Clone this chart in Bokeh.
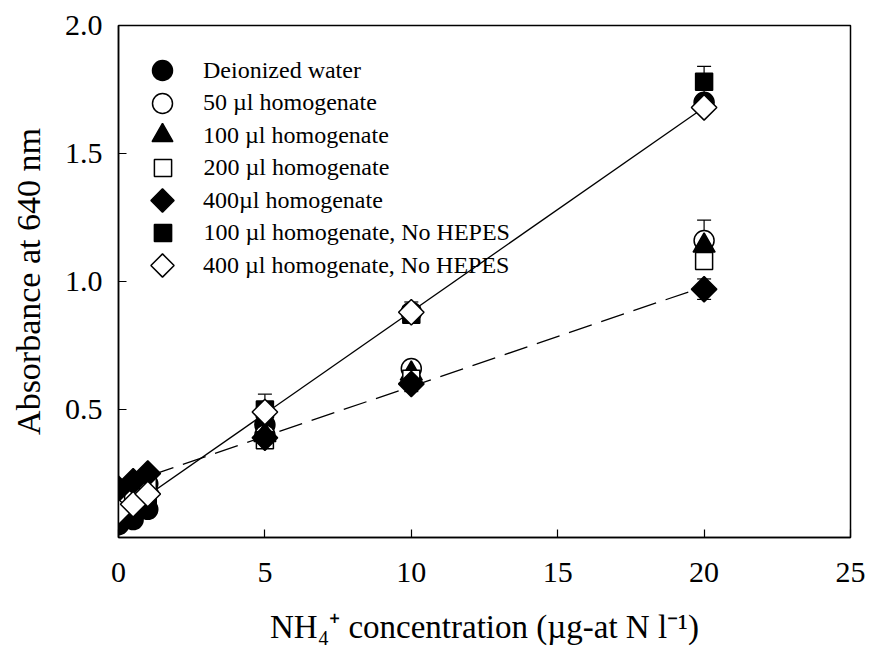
import numpy as np
from bokeh.plotting import figure
from bokeh.models import (ColumnDataSource, Whisker, TeeHead, Legend, LegendItem,
                          FixedTicker, Range1d, NumeralTickFormatter)
from bokeh.embed import file_html
from bokeh.resources import INLINE

# ---------------- data ----------------
conc = [0, 0.5, 1, 5, 10, 20]

deionized = [0.05, 0.07, 0.11, 0.44, 0.88, 1.70]
deionized_sd = [0.01, 0.01, 0.01, 0.02, 0.02, 0.02]

hom50 = [0.16, 0.18, 0.21, 0.40, 0.66, 1.16]
hom50_sd = [0.01, 0.01, 0.01, 0.02, 0.02, 0.08]

hom100 = [0.15, 0.17, 0.20, 0.40, 0.64, 1.14]
hom100_sd = [0.01, 0.01, 0.01, 0.02, 0.02, 0.04]

hom200 = [0.15, 0.17, 0.20, 0.38, 0.62, 1.08]
hom200_sd = [0.01, 0.01, 0.01, 0.03, 0.02, 0.03]

hom400 = [0.19, 0.22, 0.25, 0.39, 0.60, 0.97]
hom400_sd = [0.01, 0.01, 0.01, 0.02, 0.03, 0.04]

hom100_nohepes = [0.08, 0.10, 0.13, 0.50, 0.87, 1.78]
hom100_nohepes_sd = [0.01, 0.01, 0.01, 0.06, 0.03, 0.06]

hom400_nohepes = [0.10, 0.13, 0.17, 0.49, 0.88, 1.68]
hom400_nohepes_sd = [0.01, 0.01, 0.01, 0.02, 0.04, 0.02]

fit_x = [0, 20]
fit_solid = [0.085, 1.68]
fit_dashed = [0.20, 0.98]

x_ticks = [0, 5, 10, 15, 20, 25]
y_ticks = [0.5, 1.0, 1.5, 2.0]

labels = ["Deionized water", "50 \u00b5l homogenate", "100 \u00b5l homogenate",
          "200 \u00b5l homogenate", "400\u00b5l homogenate",
          "100 \u00b5l homogenate, No HEPES", "400 \u00b5l homogenate, No HEPES"]

FONT = "Liberation Serif"

p = figure(width=868, height=658, output_backend="svg", toolbar_location=None,
           x_range=Range1d(0, 25), y_range=Range1d(0, 2),
           min_border_left=118, min_border_right=18, min_border_top=25,
           min_border_bottom=121)

p.xgrid.grid_line_color = None
p.ygrid.grid_line_color = None
p.outline_line_color = "black"
p.outline_line_width = 1.5
p.outline_line_alpha = 1.0

p.xaxis.ticker = FixedTicker(ticks=x_ticks)
p.yaxis.ticker = FixedTicker(ticks=y_ticks)
p.yaxis.formatter = NumeralTickFormatter(format="0.0")
for ax in (p.xaxis[0], p.yaxis[0]):
    ax.major_tick_in = 8
    ax.major_tick_out = 0
    ax.minor_tick_line_color = None
    ax.axis_line_width = 1.5
    ax.major_tick_line_width = 1.2
    ax.major_label_text_font = FONT
    ax.major_label_text_font_size = "30px"
    ax.major_label_text_color = "black"
    ax.axis_label_text_font = FONT
    ax.axis_label_text_font_style = "normal"
    ax.axis_label_text_color = "black"
p.xaxis.axis_label_text_font_size = "33px"
p.yaxis.axis_label_text_font_size = "34px"
p.xaxis.major_label_standoff = 25
p.yaxis.major_label_standoff = 16
p.xaxis.axis_label = "NH\u2084\u207a concentration (\u00b5g-at N l\u207b\u00b9)"
p.yaxis.axis_label = "Absorbance at 640 nm"
p.xaxis.axis_label_standoff = 24
p.yaxis.axis_label_standoff = 15

# regression lines
p.line(fit_x, fit_solid, line_color="black", line_width=1.3)
p.line(fit_x, fit_dashed, line_color="black", line_width=1.3, line_dash="24 10")

# (values, sd, plot marker, fill, angle, plot size, legend marker, legend box)
series = [
    (deionized, deionized_sd, "circle", "black", 0.0, 20, "circle", 50),
    (hom50, hom50_sd, "circle", "white", 0.0, 20, "circle", 50),
    (hom100, hom100_sd, "triangle", "black", 0.0, 22, "triangle", 52),
    (hom200, hom200_sd, "square", "white", 0.0, 17, "square", 43),
    (hom400, hom400_sd, "square", "black", np.pi / 4, 18, "ngon", 58),
    (hom100_nohepes, hom100_nohepes_sd, "square", "black", 0.0, 17, "square", 43),
    (hom400_nohepes, hom400_nohepes_sd, "square", "white", np.pi / 4, 18, "ngon", 58),
]

frame_h = 512
row_step = 32.5
first_row = 45
key_x = 44
text_x = 85

for i, (lab, (vals, sd, marker, fill, ang, size, lmarker, box)) in enumerate(zip(labels, series)):
    v = np.array(vals)
    s = np.array(sd)
    src = ColumnDataSource(dict(x=conc, y=vals, upper=list(v + s), lower=list(v - s)))
    w = Whisker(source=src, base="x", upper="upper", lower="lower", dimension="height",
                line_color="black", line_width=1.2,
                upper_head=TeeHead(size=14, line_color="black", line_width=1.2),
                lower_head=TeeHead(size=14, line_color="black", line_width=1.2))
    p.add_layout(w)
    r = p.scatter("x", "y", source=src, marker=marker, size=size, angle=ang,
                  fill_color=fill, line_color="black", line_width=1.5)
    r_leg = r
    if lmarker == "ngon":
        try:
            r_leg = p.ngon(x="x", y="y", radius=0.3, n=4, source=src,
                           fill_color=fill, line_color="black", line_width=1.5,
                           visible=False)
        except Exception:
            r_leg = p.scatter("x", "y", source=src, marker="diamond", size=size,
                              fill_color=fill, line_color="black", line_width=1.5,
                              visible=False)
            box = 60
    c = first_row + row_step * i
    lg = Legend(items=[LegendItem(label=lab, renderers=[r_leg])],
                location=(key_x - box / 2, frame_h - c - box / 2),
                margin=0, padding=0, spacing=0,
                glyph_width=box, glyph_height=box,
                label_standoff=int(round(text_x - key_x - box / 2)),
                label_text_font=FONT, label_text_font_size="24px",
                label_text_color="black", label_text_baseline="middle",
                border_line_color=None, background_fill_alpha=0)
    p.add_layout(lg)

open("out.html", "w").write(file_html(p, INLINE))
